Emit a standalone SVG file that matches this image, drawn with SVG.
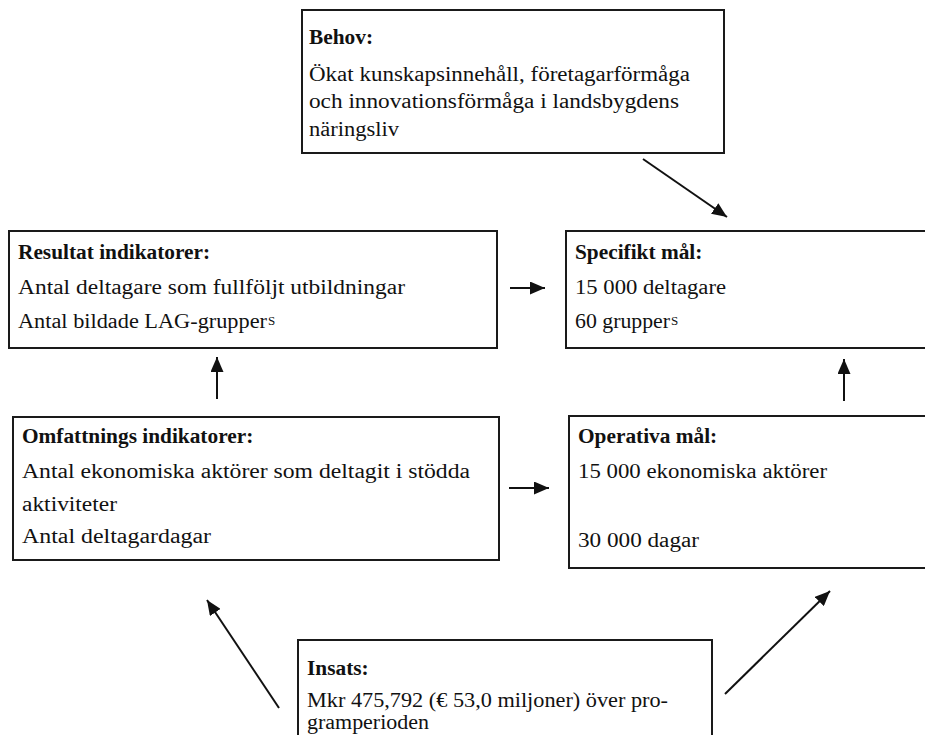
<svg xmlns="http://www.w3.org/2000/svg" width="925" height="735" viewBox="0 0 925 735">
<style>
.box{fill:#fff;stroke:#1a1a1a;stroke-width:2}
.h{font-family:"Liberation Serif","Times New Roman",serif;font-size:21.33px;font-weight:bold;fill:#111}
.t{font-family:"Liberation Serif","Times New Roman",serif;font-size:21.33px;fill:#111}
.sup{font-family:"Liberation Serif","Times New Roman",serif;font-size:13px;fill:#111}
.arr{stroke:#111;stroke-width:2;fill:none;marker-end:url(#ah)}
</style>
<defs>
<marker id="ah" markerUnits="userSpaceOnUse" markerWidth="15" markerHeight="13" refX="15" refY="6.5" orient="auto">
<path d="M0,0 L15,6.5 L0,13 z" fill="#111"/>
</marker>
</defs>
<rect width="925" height="735" fill="#fff"/>
<g id="behov">
<rect class="box" x="302" y="10" width="422" height="143"/>
<text class="h" x="309" y="44">Behov:</text>
<text class="t" x="309" y="81" textLength="381" lengthAdjust="spacingAndGlyphs">Ökat kunskapsinnehåll, företagarförmåga</text>
<text class="t" x="309" y="108" textLength="370" lengthAdjust="spacingAndGlyphs">och innovationsförmåga i landsbygdens</text>
<text class="t" x="309" y="136" textLength="90" lengthAdjust="spacingAndGlyphs">näringsliv</text>
</g>
<g id="resultat">
<rect class="box" x="9" y="231" width="488" height="117"/>
<text class="h" x="18" y="259">Resultat indikatorer:</text>
<text class="t" x="18" y="294" textLength="387" lengthAdjust="spacingAndGlyphs">Antal deltagare som fullföljt utbildningar</text>
<text class="t" x="18" y="328" textLength="249" lengthAdjust="spacingAndGlyphs">Antal bildade LAG-grupper</text>
<text class="sup" x="268" y="325">S</text>
</g>
<g id="specifikt">
<rect class="box" x="566" y="231" width="380" height="117"/>
<text class="h" x="575" y="259">Specifikt mål:</text>
<text class="t" x="575" y="294" textLength="151" lengthAdjust="spacingAndGlyphs">15 000 deltagare</text>
<text class="t" x="575" y="328" textLength="95" lengthAdjust="spacingAndGlyphs">60 grupper</text>
<text class="sup" x="671" y="325">S</text>
</g>
<g id="omfattning">
<rect class="box" x="13" y="417" width="486" height="143"/>
<text class="h" x="22" y="443">Omfattnings indikatorer:</text>
<text class="t" x="22" y="478" textLength="448" lengthAdjust="spacingAndGlyphs">Antal ekonomiska aktörer som deltagit i stödda</text>
<text class="t" x="22" y="511" textLength="95" lengthAdjust="spacingAndGlyphs">aktiviteter</text>
<text class="t" x="22" y="543" textLength="189" lengthAdjust="spacingAndGlyphs">Antal deltagardagar</text>
</g>
<g id="operativa">
<rect class="box" x="569" y="416" width="380" height="152"/>
<text class="h" x="578" y="443">Operativa mål:</text>
<text class="t" x="578" y="478" textLength="249" lengthAdjust="spacingAndGlyphs">15 000 ekonomiska aktörer</text>
<text class="t" x="578" y="547" textLength="121" lengthAdjust="spacingAndGlyphs">30 000 dagar</text>
</g>
<g id="insats">
<rect class="box" x="298" y="640" width="414" height="110"/>
<text class="h" x="307" y="675">Insats:</text>
<text class="t" x="307" y="707" textLength="361" lengthAdjust="spacingAndGlyphs">Mkr 475,792 (€ 53,0 miljoner) över pro-</text>
<text class="t" x="307" y="729" textLength="122" lengthAdjust="spacingAndGlyphs">gramperioden</text>
</g>
<g id="connectors">
<line class="arr" x1="643" y1="159" x2="727" y2="217"/>
<line class="arr" x1="510" y1="288" x2="545" y2="288"/>
<line class="arr" x1="217" y1="399" x2="217" y2="357"/>
<line class="arr" x1="844" y1="401" x2="844" y2="359"/>
<line class="arr" x1="509" y1="488" x2="549" y2="488"/>
<line class="arr" x1="279" y1="708" x2="207" y2="600"/>
<line class="arr" x1="725" y1="694" x2="830" y2="591"/>
</g>
</svg>
